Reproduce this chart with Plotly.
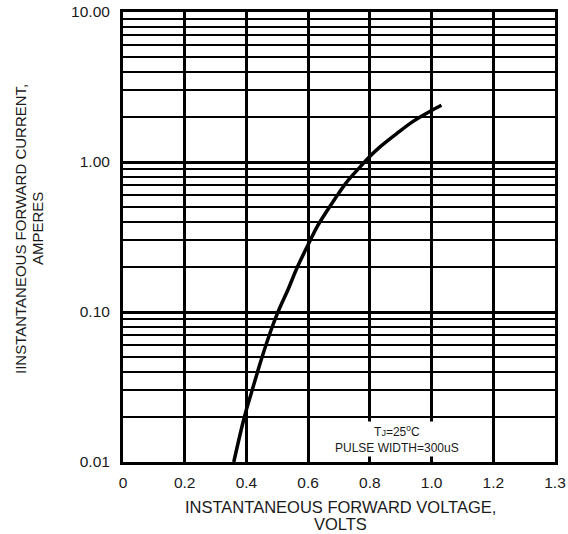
import plotly.graph_objects as go

# Data (forward voltage in V, forward current in A)
voltage = [0.359, 0.393, 0.418, 0.447, 0.479, 0.503, 0.536, 0.563, 0.601, 0.628,
           0.655, 0.687, 0.725, 0.768, 0.798, 0.833, 0.887, 0.94, 0.997, 1.032]
current = [0.01, 0.0198, 0.0298, 0.0473, 0.075, 0.101, 0.143, 0.195, 0.284, 0.367,
           0.452, 0.569, 0.735, 0.925, 1.08, 1.26, 1.545, 1.866, 2.19, 2.39]

x_tickvals = [0, 0.2, 0.4, 0.6, 0.8, 1.0, 1.2, 1.4]
x_ticktext = ["0", "0.2", "0.4", "0.6", "0.8", "1.0", "1.2", "1.3"]
y_tickvals = [0.01, 0.1, 1, 10]
y_ticktext = ["0.01", "0.10", "1.00", "10.00"]

FONT = "Arial, Liberation Sans, sans-serif"
TXT = "#1a1a1a"

fig = go.Figure()
fig.add_trace(go.Scatter(
    x=voltage, y=current, mode="lines",
    line=dict(color="black", width=3.5, shape="spline", smoothing=1),
    hoverinfo="skip", showlegend=False,
))

W, H = 568, 534
ml, mr, mt, mb = 123, 13, 12, 72
pw, ph = W - ml - mr, H - mt - mb


def px(x):
    return (x - ml) / pw


def py(y):
    return (H - mb - y) / ph


fig.update_layout(
    width=W, height=H,
    margin=dict(l=ml, r=mr, t=mt, b=mb, pad=0),
    paper_bgcolor="white", plot_bgcolor="white",
    font=dict(family=FONT, color=TXT, size=15),
    xaxis=dict(
        range=[0, 1.4], tickvals=x_tickvals, ticktext=x_ticktext,
        showgrid=True, gridcolor="black", gridwidth=2.5,
        showline=True, linecolor="black", linewidth=3, mirror=True,
        ticks="", ticklabelstandoff=4, zeroline=False, automargin=False,
        tickfont=dict(size=15.5, family=FONT, color=TXT),
    ),
    yaxis=dict(
        type="log", range=[-2, 1], tickvals=y_tickvals, ticktext=y_ticktext,
        showgrid=True, gridcolor="black", gridwidth=2.5,
        minor=dict(showgrid=True, gridcolor="black", gridwidth=2, dtick="D1"),
        showline=True, linecolor="black", linewidth=3, mirror=True,
        ticks="", ticklabelstandoff=7, zeroline=False, automargin=False,
        tickfont=dict(size=15.5, family=FONT, color=TXT),
    ),
    annotations=[
        dict(text="IINSTANTANEOUS FORWARD CURRENT,", xref="paper", yref="paper",
             x=px(20), y=py(229), xanchor="center", yanchor="middle",
             textangle=-90, showarrow=False, font=dict(size=15, family=FONT, color=TXT)),
        dict(text="AMPERES", xref="paper", yref="paper",
             x=px(37), y=py(229), xanchor="center", yanchor="middle",
             textangle=-90, showarrow=False, font=dict(size=15, family=FONT, color=TXT)),
        dict(text="INSTANTANEOUS FORWARD VOLTAGE,", xref="paper", yref="paper",
             x=px(340), y=py(507), xanchor="center", yanchor="middle",
             showarrow=False, font=dict(size=16.5, family=FONT, color=TXT)),
        dict(text="VOLTS", xref="paper", yref="paper",
             x=px(340), y=py(524), xanchor="center", yanchor="middle",
             showarrow=False, font=dict(size=16.5, family=FONT, color=TXT)),
        dict(text="T<span style='font-size:9px'>J</span>=25<sup>o</sup>C<br>PULSE WIDTH=300uS",
             xref="paper", yref="paper", x=px(397), y=py(439),
             xanchor="center", yanchor="middle", align="center",
             showarrow=False, bgcolor="white", borderpad=1,
             font=dict(size=12, family=FONT, color=TXT)),
    ],
)

fig.write_html(
    "out.html",
    config={"displayModeBar": False},
    post_script="document.body.style.margin='0';document.body.style.overflow='hidden';",
)
